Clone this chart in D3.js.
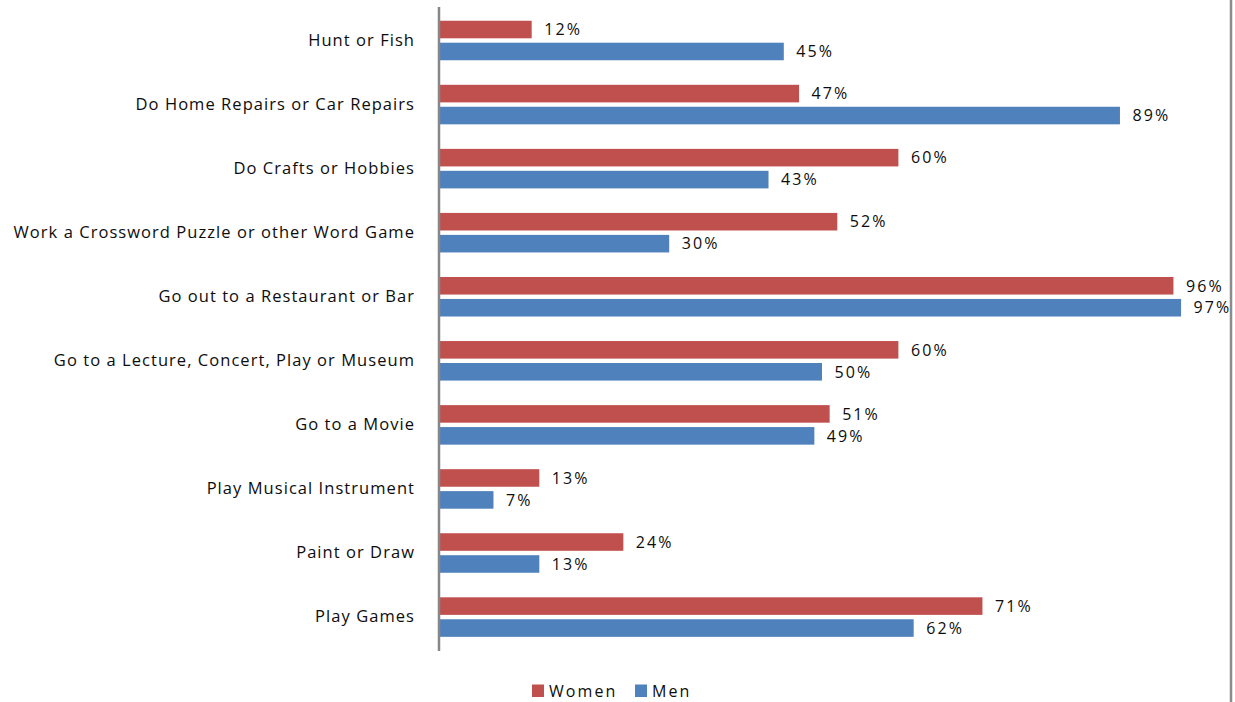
<!DOCTYPE html>
<html>
<head>
<meta charset="utf-8">
<script src="https://cdn.jsdelivr.net/npm/d3@7"></script>
<style>
  html, body { margin: 0; padding: 0; background: #fff; }
  svg { display: block; }
  text { font-family: "Open Sans", "Liberation Sans", sans-serif; fill: #0d0d0d; }
</style>
</head>
<body>
<svg id="chart" width="1235" height="702"></svg>
<script>
const categories = [
  "Hunt or Fish",
  "Do Home Repairs or Car Repairs",
  "Do Crafts or Hobbies",
  "Work a Crossword Puzzle or other Word Game",
  "Go out to a Restaurant or Bar",
  "Go to a Lecture, Concert, Play or Museum",
  "Go to a Movie",
  "Play Musical Instrument",
  "Paint or Draw",
  "Play Games"
];
const seriesNames = ["Women", "Men"];
const women = [12, 47, 60, 52, 96, 60, 51, 13, 24, 71];
const men   = [45, 89, 43, 30, 97, 50, 49, 7, 13, 62];
const colors = ["#C0504D", "#4F81BD"];

const svg = d3.select("#chart");

const x = d3.scaleLinear().domain([0, 100]).range([440, 1204]);
const y = d3.scaleBand().domain(categories).range([8.47, 649.1])
  .paddingInner(0.383).paddingOuter(0.1915);
const ySub = d3.scaleBand().domain(seriesNames).range([0, y.bandwidth()]).paddingInner(0.2);

const rows = categories.map((c, i) => ({ cat: c, vals: [women[i], men[i]] }));

const g = svg.append("g");
rows.forEach(r => {
  r.vals.forEach((v, s) => {
    const yy = y(r.cat) + ySub(seriesNames[s]);
    g.append("rect")
      .attr("x", x(0))
      .attr("y", yy)
      .attr("width", x(v) - x(0))
      .attr("height", ySub.bandwidth())
      .attr("fill", colors[s]);
    g.append("text")
      .attr("x", x(v) + 12.5)
      .attr("y", yy + ySub.bandwidth() / 2)
      .attr("dy", "0.36em")
      .style("font-size", "16px")
      .style("letter-spacing", "2.1px")
      .text(v + "%");
  });
});

// category axis
const yAxis = d3.axisLeft(y).tickSize(0).tickPadding(24);
const ax = svg.append("g").attr("transform", `translate(${x(0) - 1},0)`).call(yAxis);
ax.select(".domain").remove();
ax.selectAll("text")
  .style("font-size", "16.5px")
  .style("letter-spacing", "1.05px")
  .style("font-family", '"Open Sans", sans-serif')
  .attr("fill", "#0d0d0d");

svg.append("line")
  .attr("x1", x(0) - 1).attr("x2", x(0) - 1)
  .attr("y1", 7).attr("y2", 651)
  .attr("stroke", "#868686").attr("stroke-width", 2.5);

// right border
svg.append("line")
  .attr("x1", 1231).attr("x2", 1231)
  .attr("y1", 0).attr("y2", 702)
  .attr("stroke", "#8c8c8c").attr("stroke-width", 2.5);

// legend
const legend = svg.append("g");
const legendX = [532, 635];
seriesNames.forEach((n, i) => {
  legend.append("rect")
    .attr("x", legendX[i]).attr("y", 684.5)
    .attr("width", 12).attr("height", 12.5)
    .attr("fill", colors[i]);
  legend.append("text")
    .attr("x", legendX[i] + 17).attr("y", 691)
    .attr("dy", "0.36em")
    .style("font-size", "16px")
    .style("letter-spacing", "2.1px")
    .text(n);
});
</script>
</body>
</html>
